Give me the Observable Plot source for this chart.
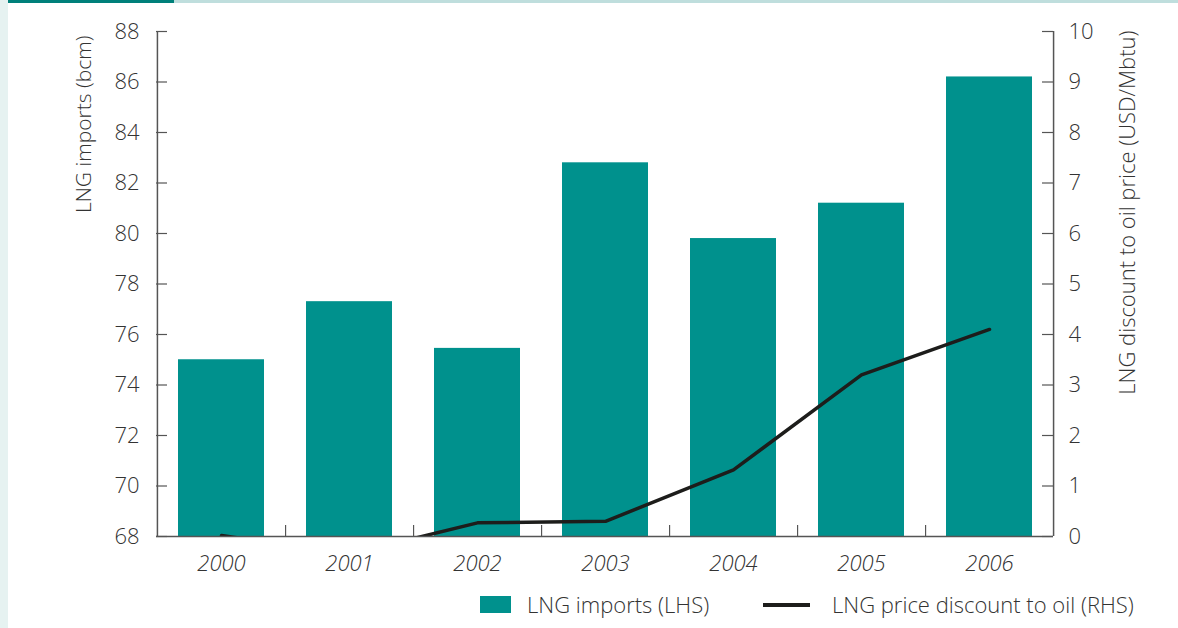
<!DOCTYPE html>
<html>
<head>
<meta charset="utf-8">
<script src="https://cdn.jsdelivr.net/npm/d3@7"></script>
<script src="https://cdn.jsdelivr.net/npm/@observablehq/plot@0.6"></script>
<style>
  html, body { margin: 0; padding: 0; background: #ffffff; }
  #page { position: relative; width: 1178px; height: 628px; overflow: hidden; background: #ffffff;
          font-family: "Open Sans", Roboto, sans-serif; font-weight: 300; color: #333333; }
  #strip { position: absolute; left: 0; top: 0; width: 8px; height: 628px; background: #e6f2f1; }
  #topDark { position: absolute; left: 8px; top: 0; width: 166px; height: 3px; background: #00807a; }
  #topLight { position: absolute; left: 174px; top: 0; width: 1004px; height: 3px; background: #bfdedd; }
  #chart { position: absolute; left: 0; top: 0; }
  #legend { position: absolute; left: 0; top: 590px; width: 1178px; height: 30px; font-size: 22px; }
  .sw { position: absolute; }
  .lt { position: absolute; top: -1px; white-space: nowrap; }
</style>
</head>
<body>
<div id="page">
  <div id="strip"></div>
  <div id="topDark"></div>
  <div id="topLight"></div>
  <div id="chart"></div>
  <div id="legend">
    <div class="sw" style="left:480px; top:6px; width:31px; height:17px; background:#00918d;"></div>
    <div class="lt" style="left:527px;">LNG imports (LHS)</div>
    <div class="sw" style="left:763px; top:13px; width:47px; height:4px; background:#1d1d1b;"></div>
    <div class="lt" style="left:832px;">LNG price discount to oil (RHS)</div>
  </div>
</div>
<script>
// Years on the category axis
const years = ["2000", "2001", "2002", "2003", "2004", "2005", "2006"];
// LNG imports, bcm (left axis)
const importsBcm = [75.0, 77.3, 75.45, 82.8, 79.8, 81.2, 86.2];
// LNG price discount to oil, USD/Mbtu (right axis)
const discountUsd = [0.02, -0.35, 0.27, 0.30, 1.32, 3.2, 4.1];
// Tick values
const leftTicks = [68, 70, 72, 74, 76, 78, 80, 82, 84, 86, 88];
const rightTicks = [0, 1, 2, 3, 4, 5, 6, 7, 8, 9, 10];

// The right axis (0–10) shares the left axis frame (68–88)
const leftMin = 68, leftMax = 88, rightMax = 10;
const toLeft = v => leftMin + v * (leftMax - leftMin) / rightMax;

const W = 1178, H = 585;
const mL = 156, mR = 125, mT = 31, mB = 49;
const innerW = W - mL - mR, innerH = H - mT - mB;
const step = innerW / years.length;
const tickLen = 11;

const importsData = years.map((year, i) => ({year, value: importsBcm[i]}));
const discountData = years.map((year, i) => ({year, value: discountUsd[i]}));

const teal = "#00918d";
const ink = "#1d1d1b";
const axisColor = "#555555";

const chart = Plot.plot({
  width: W,
  height: H,
  marginLeft: mL,
  marginRight: mR,
  marginTop: mT,
  marginBottom: mB,
  style: {fontFamily: "'Open Sans', Roboto, sans-serif", fontSize: "22px", fontWeight: 300, color: "#333333", background: "transparent"},
  x: {type: "band", domain: years, paddingInner: 0.33, paddingOuter: 0.165, axis: null},
  y: {domain: [leftMin, leftMax], axis: null},
  marks: [
    Plot.barY(importsData, {x: "year", y1: leftMin, y2: "value", fill: teal}),
    Plot.lineY(discountData, {x: "year", y: d => toLeft(d.value), stroke: ink, strokeWidth: 3.5, clip: true}),
    // axis lines
    Plot.ruleY([leftMin], {stroke: axisColor, strokeWidth: 1.5}),
    Plot.ruleX([years[0]], {dx: -step / 2, stroke: axisColor, strokeWidth: 1.5}),
    Plot.ruleX([years[years.length - 1]], {dx: step / 2, stroke: axisColor, strokeWidth: 1.5}),
    // inward tick marks
    Plot.ruleY(leftTicks, {insetRight: innerW - tickLen, stroke: axisColor, strokeWidth: 1.2}),
    Plot.ruleY(rightTicks.map(toLeft), {insetLeft: innerW - tickLen, stroke: axisColor, strokeWidth: 1.2}),
    Plot.ruleX(years.slice(0, -1), {dx: step / 2, insetTop: innerH - tickLen, stroke: axisColor, strokeWidth: 1.2}),
    // tick labels
    Plot.axisY(leftTicks, {anchor: "left", tickSize: 0, tickPadding: 17, label: null}),
    Plot.axisY(rightTicks.map(toLeft), {anchor: "right", tickSize: 0, tickPadding: 15, label: null,
      tickFormat: d => String(Math.round((d - leftMin) * rightMax / (leftMax - leftMin)))}),
    Plot.axisX({tickSize: 0, tickPadding: 19, label: null, fontStyle: "italic"}),
    // axis titles
    Plot.text(["LNG imports (bcm)"], {frameAnchor: "top-left", text: d => d, rotate: -90, textAnchor: "end",
      lineAnchor: "middle", dx: -72, dy: 4, fontSize: 21, fill: "#333333"}),
    Plot.text(["LNG discount to oil price (USD/Mbtu)"], {frameAnchor: "top-right", text: d => d, rotate: -90, textAnchor: "end",
      lineAnchor: "middle", dx: 74, dy: -1, fill: "#333333"})
  ]
});
document.getElementById("chart").appendChild(chart);
</script>
</body>
</html>
